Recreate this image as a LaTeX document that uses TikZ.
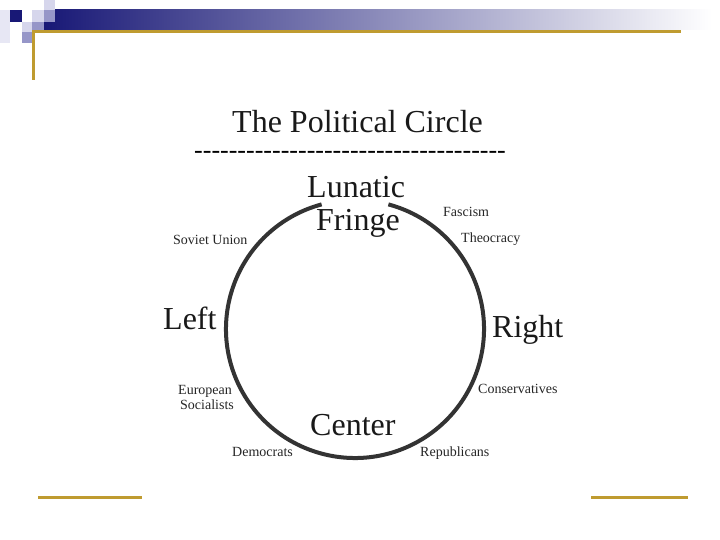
\documentclass[tikz,border=0pt]{standalone}
\usepackage{fontspec}
\setmainfont{Liberation Serif}
\usepackage{tikz}
\definecolor{slidegold}{RGB}{191,155,48}
\definecolor{slidenavy}{RGB}{24,24,118}
\definecolor{tilelight}{RGB}{214,214,236}
\definecolor{tilemid}{RGB}{150,150,200}
\newcommand\dashrow{\foreach \k in {1,...,36}{\hbox{-}}}

\begin{document}
\begin{tikzpicture}[x=1pt,y=-1pt,
  bigword/.style={font=\fontsize{32}{34}\selectfont,anchor=base west,
                  inner sep=0pt,text=black!90},
  smallword/.style={font=\fontsize{14}{15}\selectfont,anchor=base west,
                    inner sep=0pt,text=black!85},
  ring/.style={line width=4pt,black!80},
  goldrule/.style={fill=slidegold}
]
\useasboundingbox (0,0) rectangle (720,540);
\fill[white] (0,0) rectangle (720,540);

%% Slide decoration: tiles, blue bar, gold rules
\shade[left color=slidenavy,right color=white] (44,10) rectangle (712,30);
\fill[tilelight!60] (0,10) rectangle (10,43);
\fill[slidenavy]    (10,10) rectangle (22,22);
\fill[tilelight]    (22,22) rectangle (32,32);
\fill[tilelight]    (32,10) rectangle (44,22);
\fill[tilelight]    (44,0)  rectangle (55,10);
\fill[tilemid]      (44,10) rectangle (55,22);
\fill[tilemid]      (32,22) rectangle (44,30);
\fill[tilemid]      (22,32) rectangle (32,43);
\fill[goldrule] (32,30) rectangle (681,33);
\fill[goldrule] (32,30) rectangle (35,80);
\fill[goldrule] (38,496) rectangle (142,499);
\fill[goldrule] (591,496) rectangle (688,499);

%% Title and hyphen rule
\node[bigword] (title) at (232,133) {The Political Circle};
\node[font=\fontsize{26}{28}\selectfont,anchor=base west,inner sep=0pt]
     (rule) at (194,159) {\dashrow};

%% The circle, open at the top
\coordinate (hub) at (355,329);
\draw[ring] (hub) ++(285:129) arc[start angle=285,end angle=615,radius=129];

%% Main positions
\node[bigword] (lunatic) at (307,197) {Lunatic};
\node[bigword] (fringe)  at (316,230) {Fringe};
\node[bigword] (left)    at (163,329) {Left};
\node[bigword] (right)   at (492,337) {Right};
\node[bigword] (center)  at (310,435) {Center};

%% Examples round the circle
\node[smallword] (soviet)  at (173,244) {Soviet Union};
\node[smallword] (fascism) at (443,217) {Fascism};
\node[smallword] (theo)    at (461,243) {Theocracy};
\node[smallword] (euro)    at (178,394) {European};
\node[smallword] (socs)    at (180,409) {Socialists};
\node[smallword] (cons)    at (478,393) {Conservatives};
\node[smallword] (dems)    at (232,456) {Democrats};
\node[smallword] (reps)    at (420,456) {Republicans};
\end{tikzpicture}
\end{document}
